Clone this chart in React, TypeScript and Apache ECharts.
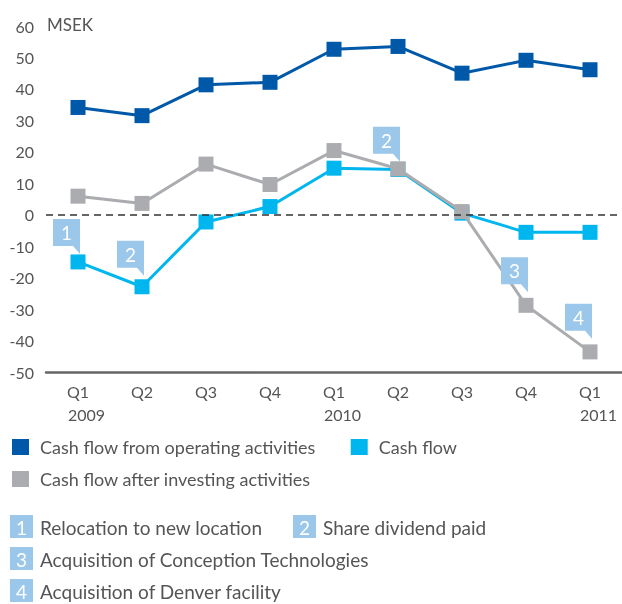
import React, { useEffect, useRef } from "react";
import * as echarts from "echarts";

const quarters = ["Q1", "Q2", "Q3", "Q4", "Q1", "Q2", "Q3", "Q4", "Q1"];
const years = ["2009", "", "", "", "2010", "", "", "", "2011"];

const seriesNames = [
  "Cash flow from operating activities",
  "Cash flow",
  "Cash flow after investing activities",
];
const operating = [34.1, 31.5, 41.3, 42.1, 52.6, 53.5, 45.0, 49.1, 46.1];
const cashFlow = [-15.0, -22.9, -2.3, 2.6, 14.8, 14.4, 0.5, -5.6, -5.6];
const afterInvesting = [5.9, 3.6, 16.1, 9.6, 20.4, 14.6, 1.0, -28.8, -43.6];

const yTicks = { min: -50, max: 60, interval: 10 };
const unitLabel = "MSEK";

// callouts: number, series index, category index
const calloutNumbers = ["1", "2", "2", "3", "4"];
const calloutSeries = [1, 1, 2, 2, 2];
const calloutIndex = [0, 1, 5, 7, 8];
const calloutGap = [16, 19, 15, 21, 21];

const noteNumbers = ["1", "2", "3", "4"];
const noteTexts = [
  "Relocation to new location",
  "Share dividend paid",
  "Acquisition of Conception Technologies",
  "Acquisition of Denver facility",
];
const notePos = [
  [10, 515],
  [293, 515],
  [10, 547],
  [10, 579],
];

const COLORS = ["#0058A9", "#00B6EE", "#ABACAF"];
const CALLOUT = "#9BC8EA";
const TEXT = "#555555";
const FONT = "Lato, 'Open Sans', sans-serif";

const calloutPath = "path://M0 0 H27 V35 L20 27 H0 Z";

export default function App() {
  const ref = useRef<HTMLDivElement>(null);
  useEffect(() => {
    if (!ref.current) return;
    const chart = echarts.init(ref.current, undefined, { renderer: "svg" });
    const dataSets = [operating, cashFlow, afterInvesting];

    const series: any[] = dataSets.map((d, si) => {
      const points = calloutSeries
        .map((s, k) => ({ s, k }))
        .filter((o) => o.s === si)
        .map(({ k }) => ({
          coord: [calloutIndex[k], d[calloutIndex[k]]],
          value: calloutNumbers[k],
          symbolOffset: [-11.5, -(calloutGap[k] + 9.5)],
        }));
      const s: any = {
        name: seriesNames[si],
        type: "line",
        data: d,
        z: 2 + si,
        symbol: "rect",
        symbolSize: 15,
        lineStyle: { width: 3, color: COLORS[si] },
        itemStyle: { color: COLORS[si] },
        emphasis: { disabled: true },
        markPoint: points.length
          ? {
              symbol: calloutPath,
              symbolSize: [27, 35],
              silent: true,
              itemStyle: { color: CALLOUT },
              label: {
                show: true,
                position: "inside",
                offset: [0, -4],
                color: "#ffffff",
                fontSize: 19,
                fontFamily: FONT,
                formatter: (p: any) => p.value,
              },
              data: points,
            }
          : undefined,
      };
      if (si === 0) {
        s.markLine = {
          silent: true,
          symbol: "none",
          label: { show: false },
          emphasis: { disabled: true },
          lineStyle: { color: "#333333", width: 1.5, type: [7, 5], opacity: 1 },
          data: [{ yAxis: 0 }],
        };
      }
      return s;
    });

    const graphics: any[] = [
      {
        type: "text",
        left: 47,
        top: 16,
        style: { text: unitLabel, fill: TEXT, fontSize: 17, fontFamily: FONT },
      },
    ];
    noteTexts.forEach((t, i) => {
      const [x, y] = notePos[i];
      graphics.push({
        type: "rect",
        shape: { x, y, width: 23, height: 23 },
        style: { fill: CALLOUT },
      });
      graphics.push({
        type: "text",
        x: x + 11.5,
        y: y + 12,
        style: {
          text: noteNumbers[i],
          fill: "#ffffff",
          fontSize: 19,
          fontFamily: FONT,
          align: "center",
          verticalAlign: "middle",
        },
      });
      graphics.push({
        type: "text",
        x: x + 30,
        y: y + 12,
        style: {
          text: t,
          fill: TEXT,
          fontSize: 19,
          fontFamily: FONT,
          align: "left",
          verticalAlign: "middle",
        },
      });
    });

    const legendCommon = {
      left: 12,
      padding: 0,
      icon: "rect",
      itemWidth: 17,
      itemHeight: 16,
      itemGap: 35,
      selectedMode: false,
      textStyle: {
        color: TEXT,
        fontSize: 18,
        fontFamily: FONT,
        padding: [0, 0, 0, 6],
      },
    };

    chart.setOption({
      animation: false,
      textStyle: { fontFamily: FONT },
      grid: { left: 46, right: -8, top: 26, bottom: 232, containLabel: false },
      legend: [
        { ...legendCommon, top: 438, data: [seriesNames[0], seriesNames[1]] },
        { ...legendCommon, top: 470, data: [seriesNames[2]] },
      ],
      xAxis: {
        type: "category",
        boundaryGap: true,
        data: quarters.map((q, i) => (years[i] ? q + " " + years[i] : q + "_" + i)),
        axisLine: { onZero: false, lineStyle: { color: "#666666", width: 2.5 } },
        axisTick: { show: false },
        axisLabel: {
          margin: 8,
          interval: 0,
          formatter: (_v: string, i: number) =>
            years[i]
              ? `{q|${quarters[i]}}\n{y|${years[i]}}`
              : `{q|${quarters[i]}}`,
          rich: {
            q: { fontSize: 16, lineHeight: 23, color: TEXT, fontFamily: FONT, align: "center" },
            y: {
              fontSize: 16,
              lineHeight: 23,
              color: TEXT,
              fontFamily: FONT,
              padding: [0, 0, 0, 17],
            },
          },
        },
      },
      yAxis: {
        type: "value",
        min: yTicks.min,
        max: yTicks.max,
        interval: yTicks.interval,
        axisLine: { show: false },
        axisTick: { show: false },
        splitLine: { show: false },
        axisLabel: { color: TEXT, fontSize: 16, margin: 12, fontFamily: FONT },
      },
      graphic: graphics,
      series,
    });
    return () => chart.dispose();
  }, []);
  return (
    <div
      ref={ref}
      style={{ position: "fixed", left: 0, top: 0, width: 622, height: 604 }}
    />
  );
}
